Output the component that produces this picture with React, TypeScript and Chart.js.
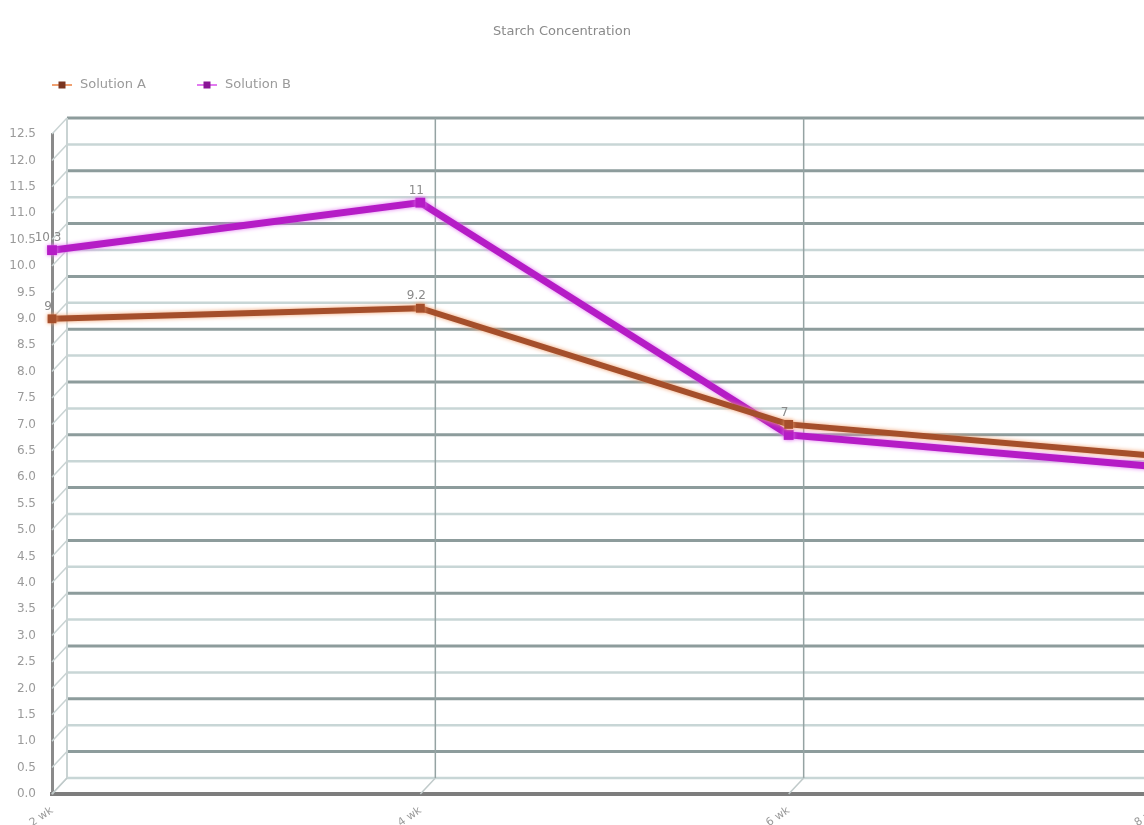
import React, { useEffect, useRef } from "react";
import { Chart, registerables } from "chart.js";

Chart.register(...registerables);

const chartTitle = "Starch Concentration";
const categories = ["2 wk", "4 wk", "6 wk", "8 wk"];
const seriesNames = ["Solution A", "Solution B"];
const solutionA = [9, 9.2, 7, 6.4];
const solutionB = [10.3, 11.2, 6.8, 6.2];
const labelsA = ["9", "9.2", "7", "6.4"];
const labelsB = ["10.3", "11", "", ""];
const yTicks = [0, 0.5, 1, 1.5, 2, 2.5, 3, 3.5, 4, 4.5, 5, 5.5, 6, 6.5, 7, 7.5, 8, 8.5, 9, 9.5, 10, 10.5, 11, 11.5, 12, 12.5];

const FONT = "'DejaVu Sans', Verdana, sans-serif";
const colorA = "#a54f2b";
const glowA = "#f0a070";
const colorB = "#b51cc6";
const glowB = "#e27af0";
const DX = 15;
const DY = 16;

const wallPlugin = {
  id: "wall3d",
  beforeDatasetsDraw(chart: any) {
    const { ctx, chartArea, scales } = chart;
    const y = scales.y;
    const x = scales.x;
    const W = chart.width;
    ctx.save();
    yTicks.forEach((v, i) => {
      const py = y.getPixelForValue(v);
      ctx.strokeStyle = "#c9d3d3";
      ctx.lineWidth = 1.5;
      ctx.beginPath();
      ctx.moveTo(chartArea.left, py);
      ctx.lineTo(chartArea.left + DX, py - DY);
      ctx.stroke();
      const dark = i % 2 === 1;
      ctx.strokeStyle = dark ? "#8d9c9c" : "#c8d6d6";
      ctx.lineWidth = dark ? 3 : 2.5;
      ctx.beginPath();
      ctx.moveTo(chartArea.left + DX, py - DY);
      ctx.lineTo(W, py - DY);
      ctx.stroke();
    });
    const top = y.getPixelForValue(12.5) - DY;
    const bot = y.getPixelForValue(0) - DY;
    categories.forEach((c, i) => {
      const px = x.getPixelForValue(i);
      ctx.strokeStyle = i === 0 ? "#c9d3d3" : "#95a3a3";
      ctx.lineWidth = i === 0 ? 2 : 1.5;
      ctx.beginPath();
      ctx.moveTo(px + DX, top);
      ctx.lineTo(px + DX, bot);
      ctx.stroke();
      ctx.strokeStyle = "#c0caca";
      ctx.lineWidth = 1.5;
      ctx.beginPath();
      ctx.moveTo(px + DX, bot);
      ctx.lineTo(px, bot + DY);
      ctx.stroke();
    });
    ctx.restore();
  },
  beforeDatasetDraw(chart: any, args: any) {
    const ctx = chart.ctx;
    ctx.save();
    ctx.shadowColor = args.index === 0 ? glowA : glowB;
    ctx.shadowBlur = 4;
  },
  afterDatasetDraw(chart: any) {
    chart.ctx.restore();
  },
  afterDatasetsDraw(chart: any) {
    const { ctx } = chart;
    const lbls = [labelsA, labelsB];
    ctx.save();
    ctx.font = "12px " + FONT;
    ctx.fillStyle = "#8a8a8a";
    ctx.textAlign = "center";
    ctx.textBaseline = "bottom";
    chart.data.datasets.forEach((ds: any, di: number) => {
      const meta = chart.getDatasetMeta(di);
      meta.data.forEach((pt: any, i: number) => {
        const t = lbls[di][i];
        if (t) ctx.fillText(t, pt.x - 4, pt.y - 6);
      });
    });
    // title
    ctx.font = "13px " + FONT;
    ctx.fillStyle = "#8a8a8a";
    ctx.textAlign = "center";
    ctx.textBaseline = "middle";
    ctx.fillText(chartTitle, 562, 32);
    // legend
    const items = [
      { x: 52, color: "#7a3520", glow: glowA, text: seriesNames[0] },
      { x: 197, color: "#8a1596", glow: glowB, text: seriesNames[1] },
    ];
    const ly = 85;
    items.forEach((it) => {
      ctx.strokeStyle = it.glow;
      ctx.lineWidth = 2;
      ctx.beginPath();
      ctx.moveTo(it.x, ly);
      ctx.lineTo(it.x + 20, ly);
      ctx.stroke();
      ctx.fillStyle = it.color;
      ctx.fillRect(it.x + 6.5, ly - 3.5, 7, 7);
      ctx.fillStyle = "#9a9a9a";
      ctx.textAlign = "left";
      ctx.textBaseline = "middle";
      ctx.fillText(it.text, it.x + 28, ly);
    });
    ctx.restore();
  },
};

export default function App() {
  const ref = useRef<HTMLCanvasElement>(null);
  useEffect(() => {
    if (!ref.current) return;
    const chart = new Chart(ref.current, {
      type: "line",
      data: {
        labels: categories,
        datasets: [
          {
            label: seriesNames[0],
            data: solutionA,
            borderColor: colorA,
            backgroundColor: "#7a3018",
            borderWidth: 6,
            pointStyle: "rect",
            pointRadius: 2,
            tension: 0,
          },
          {
            label: seriesNames[1],
            data: solutionB,
            borderColor: colorB,
            backgroundColor: "#7e0f8a",
            borderWidth: 7,
            pointStyle: "rect",
            pointRadius: 2,
            tension: 0,
          },
        ],
      },
      options: {
        responsive: false,
        animation: false,
        layout: { padding: { left: 0, right: 8, top: 134, bottom: 0 } },
        plugins: {
          legend: { display: false },
          tooltip: { enabled: false },
          title: { display: false },
        },
        scales: {
          x: {
            offset: false,
            grid: { display: false },
            border: { display: true, color: "#7d7d7d", width: 4 },
            ticks: {
              color: "#9a9a9a",
              font: { size: 11, family: FONT },
              minRotation: 35,
              maxRotation: 35,
              padding: 2,
            },
            afterFit: (s: any) => {
              s.height = 31;
            },
          },
          y: {
            min: 0,
            max: 12.5,
            grid: { display: false },
            border: { display: true, color: "#8a8a8a", width: 3 },
            ticks: {
              stepSize: 0.5,
              color: "#9a9a9a",
              font: { size: 12, family: FONT },
              padding: 8,
              callback: (v: any) => Number(v).toFixed(1),
            },
            afterFit: (s: any) => {
              s.width = 52;
            },
          },
        },
      },
      plugins: [wallPlugin],
    });
    return () => chart.destroy();
  }, []);
  return (
    <div style={{ position: "fixed", left: 0, top: 0, width: 1144, height: 825, overflow: "hidden", background: "#fff" }}>
      <canvas ref={ref} width={1168} height={825} style={{ display: "block" }} />
    </div>
  );
}
